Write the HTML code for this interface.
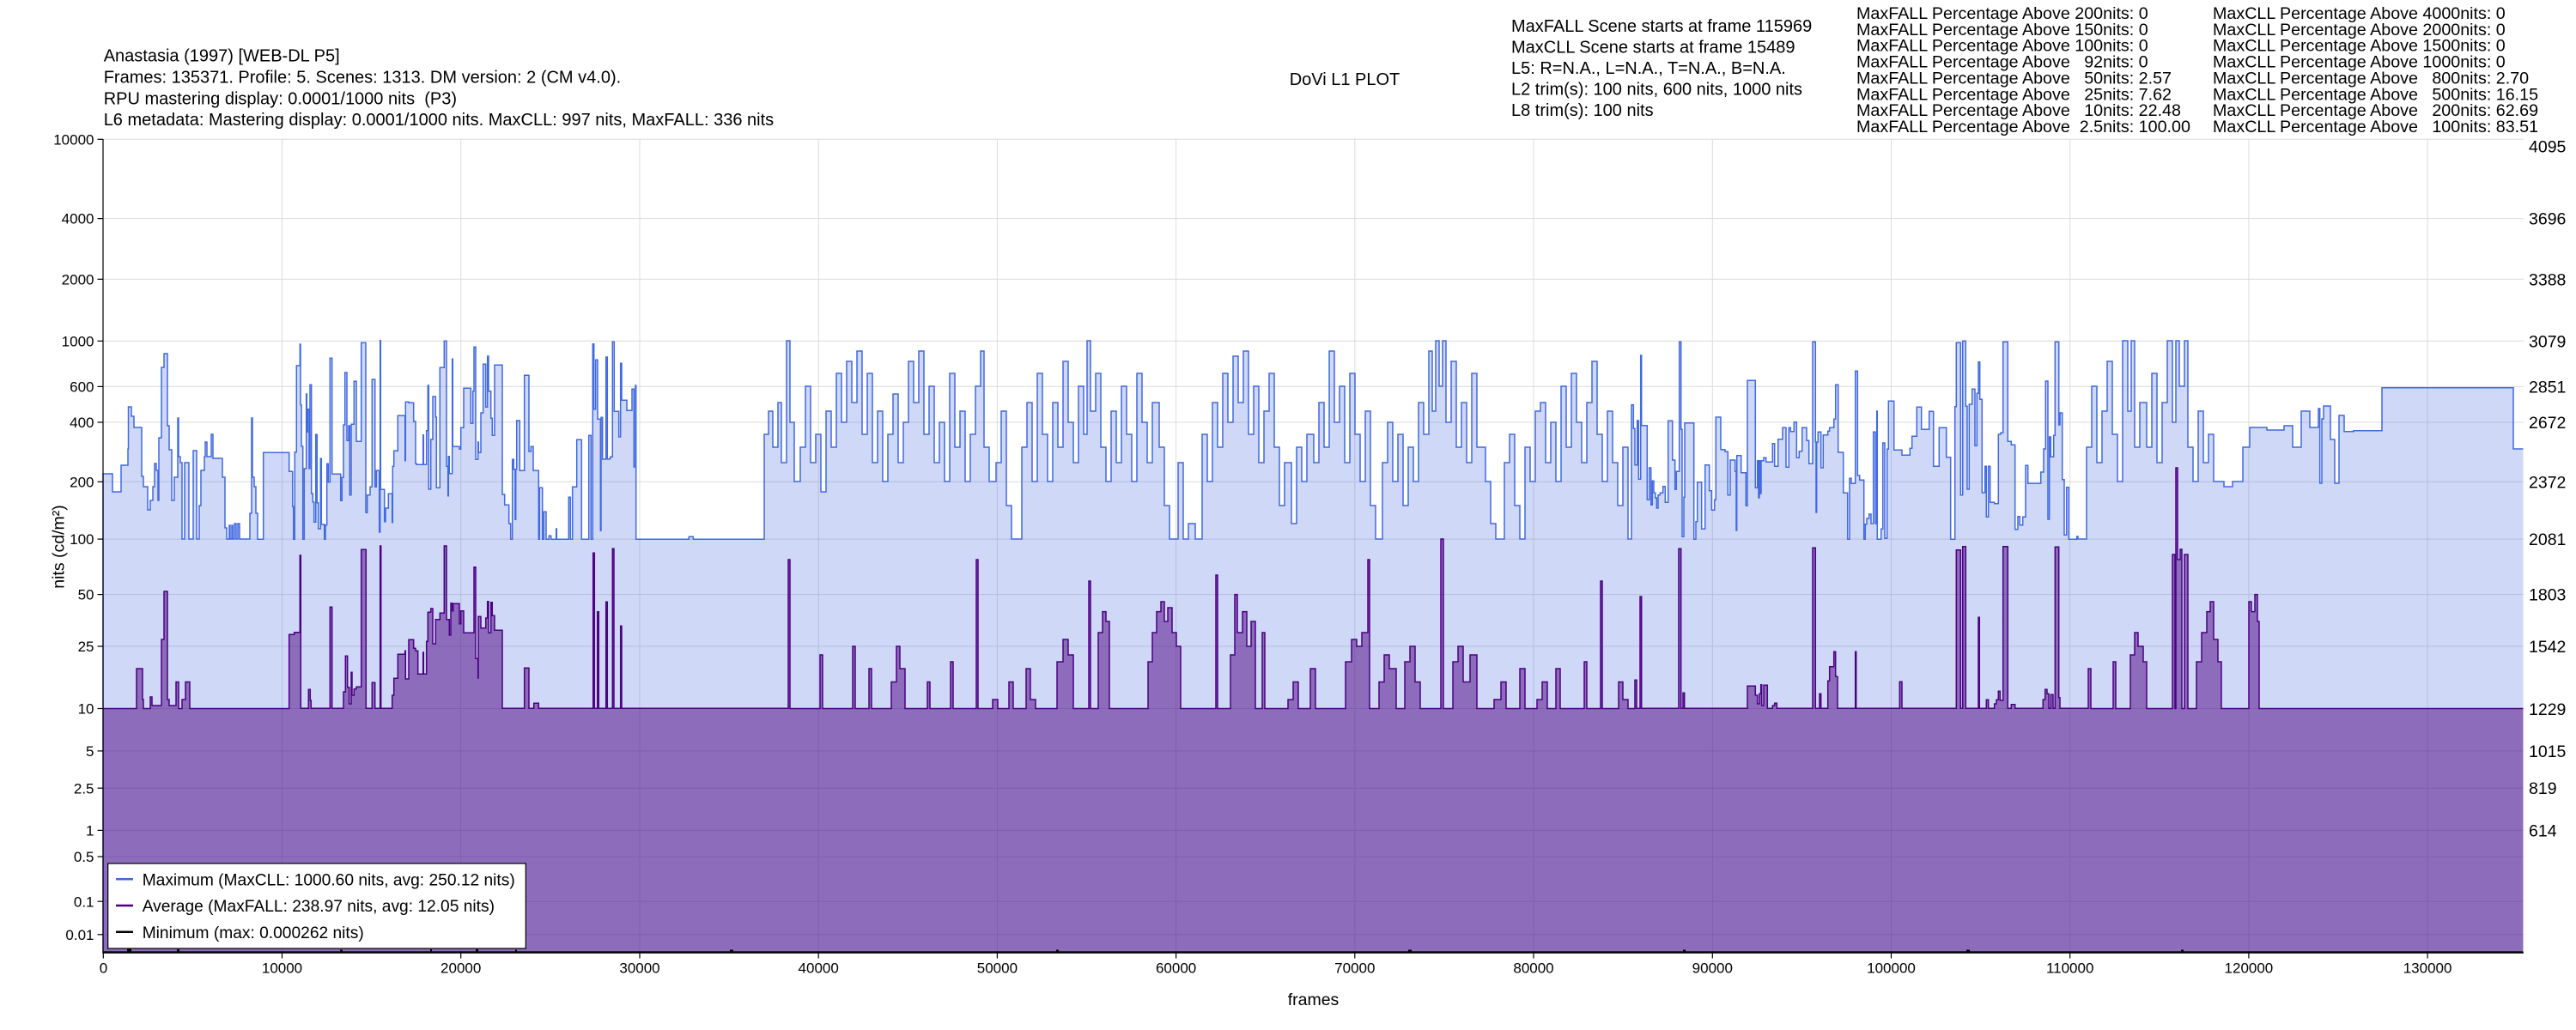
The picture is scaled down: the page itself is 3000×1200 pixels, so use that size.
<!DOCTYPE html>
<html><head><meta charset="utf-8"><style>
html,body{margin:0;padding:0;background:#fff;}
svg{display:block;}
text{font-family:"Liberation Sans",Arial,sans-serif;fill:#000;white-space:pre;}
</style></head><body>
<svg width="3000" height="1200" viewBox="0 0 3000 1200" xmlns="http://www.w3.org/2000/svg">
<rect x="0" y="0" width="3000" height="1200" fill="#fff"/>
<g stroke="#dcdcdc" stroke-width="1">
<line x1="120" y1="162.3" x2="2939" y2="162.3"/><line x1="120" y1="254.6" x2="2939" y2="254.6"/><line x1="120" y1="325.3" x2="2939" y2="325.3"/><line x1="120" y1="397.3" x2="2939" y2="397.3"/><line x1="120" y1="450.4" x2="2939" y2="450.4"/><line x1="120" y1="492" x2="2939" y2="492"/><line x1="120" y1="561.3" x2="2939" y2="561.3"/><line x1="120" y1="628.1" x2="2939" y2="628.1"/><line x1="120" y1="692.6" x2="2939" y2="692.6"/><line x1="120" y1="753" x2="2939" y2="753"/><line x1="120" y1="825.5" x2="2939" y2="825.5"/><line x1="120" y1="874.9" x2="2939" y2="874.9"/><line x1="120" y1="918.2" x2="2939" y2="918.2"/><line x1="120" y1="967.4" x2="2939" y2="967.4"/><line x1="120" y1="998" x2="2939" y2="998"/><line x1="120" y1="1050.2" x2="2939" y2="1050.2"/><line x1="120" y1="1088.8" x2="2939" y2="1088.8"/>
<line x1="328.5" y1="162" x2="328.5" y2="1110"/><line x1="536.7" y1="162" x2="536.7" y2="1110"/><line x1="745" y1="162" x2="745" y2="1110"/><line x1="953.2" y1="162" x2="953.2" y2="1110"/><line x1="1161.4" y1="162" x2="1161.4" y2="1110"/><line x1="1369.6" y1="162" x2="1369.6" y2="1110"/><line x1="1577.8" y1="162" x2="1577.8" y2="1110"/><line x1="1786" y1="162" x2="1786" y2="1110"/><line x1="1994.3" y1="162" x2="1994.3" y2="1110"/><line x1="2202.5" y1="162" x2="2202.5" y2="1110"/><line x1="2410.7" y1="162" x2="2410.7" y2="1110"/><line x1="2618.9" y1="162" x2="2618.9" y2="1110"/><line x1="2827.1" y1="162" x2="2827.1" y2="1110"/>
</g>
<!-- max fill -->
<path fill="#4169e1" fill-opacity="0.25" stroke="none" d="M120,1110 V552 H131 V573 H141 V542 H149 V523 H149.5 V474 H153 V485 H156 V498 H165 V555 H167 V567 H172 V594 H175 V583 H178 V567 H180 V540 H182 V548 H184 V583 H185 V510 H188 V428 H191 V412 H195 V496 H197 V524 H200 V583 H203 V556 H207 V487 H208 V532 H210 V539 H212 V628 H215 V539 H220 V628 H225 V525 H229 V628 H232 V589 H234 V548 H238 V532 H239 V515 H241 V532 H246 V506 H248 V534 H259 V556 H262 V615 H264 V628 H267 V612 H268 V628 H270 V612 H271 V628 H273 V610 H275 V628 H277 V610 H279 V628 H291 V598 H293 V487 H294 V556 H296 V567 H298 V598 H300 V628.3 H306.7 V527.3 H336.7 V549.3 H340.7 V590.3 H341.7 V628.3 H343.3 V526.7 H345.3 V426 H349.3 V401 H350 V471.7 H351 V520 H352.7 V628.3 H354.3 V546 H356.7 V459 H357.3 V503.3 H358.3 V476.7 H360 V546 H361 V448.3 H362.7 V575 H364.3 V585 H365.7 V608.3 H367.7 V506.3 H369.3 V585.7 H370.7 V616 H373.3 V534.3 H374.3 V611 H377.7 V628.3 H379 V611.7 H380.7 V540.3 H382.3 V561.7 H384.3 V417.3 H386.7 V552.3 H396.7 V583.3 H398.3 V556.3 H400 V495 H401.7 V434 H404 V513.3 H406 V496 H407.3 V576.7 H409 V494.3 H412.3 V444.3 H415 V514.3 H420.7 V399.3 H426 V597.3 H427.7 V576.7 H431 V567.3 H433.3 V442 H436.7 V567.3 H438.3 V548.3 H441.7 V620 H442.7 V396.7 H443.3 V570.3 H447.7 V607.7 H449 V592 H452.3 V575.3 H456.7 V608.7 H457.3 V543.3 H458.7 V525.3 H463.3 V484.3 H471.7 V536.7 H472.3 V468.3 H476 V469.3 H481.7 V491 H484 V540.3 H485.3 V541.3 H492.7 V506.7 H493.3 V541.3 H496.7 V501.7 H498.3 V449 H499.3 V570 H501.7 V512 H504 V462 H507.3 V486 H508.3 V568.3 H512.3 V428.3 H517.3 V397.3 H520 V543.3 H521.7 V577.7 H522.3 V531.7 H523.3 V551.7 H526.7 V418.3 H527.3 V520.3 H535 V523.3 H536.7 V498.3 H540 V452.3 H548.3 V493.3 H550.7 V455.7 H552 V404.3 H554 V535.3 H556.7 V515 H557.3 V527.3 H560 V481 H562.7 V424.3 H565.7 V474.3 H567.7 V415 H569 V455.7 H571.7 V487.3 H573.3 V507.3 H576 V425.3 H585 V576 H587.7 V588.3 H592.7 V610 H594.7 V628.3 H596.7 V535.3 H598.3 V546.7 H600 V605.3 H600.7 V546.7 H601.7 V490 H605.3 V548.3 H610.7 V437.3 H616 V526 H618.3 V520.3 H621 V548.3 H627.3 V628.3 H628.3 V568.3 H631.7 V628.3 H633.3 V596.3 H636 V628.3 H639.3 V624.3 H641.7 V628.3 H647.7 V616 H648.3 V628.3 H662.3 V579.3 H664.3 V628.3 H666.7 V567.3 H671.7 V512.3 H677.3 V628.3 H685.7 V507.3 H688.3 V628.3 H690.3 V400.7 H691.7 V476.7 H693.7 V419.3 H696 V488.3 H699.3 V618.3 H700 V486.3 H701.7 V535 H705.7 V416 H707.3 V534.7 H710.7 V532.3 H713.3 V398.3 H715.3 V479.3 H720.7 V509 H722.7 V423.3 H724 V466.3 H730 V478.3 H736 V453.3 H738.3 V544 H740 V449 H740.7 V628.3 H802.3 V625.3 H807.3 V628.3 H890 V506 H895 V479 H900 V521 H906 V469 H910 V539 H916 V397 H920 V492 H925 V561 H932 V521 H938 V450 H944 V539 H950 V506 H956 V573 H962 V479 H968 V521 H974 V435 H980 V492 H986 V421 H992 V469 H998 V409 H1004 V506 H1010 V435 H1016 V539 H1022 V479 H1028 V561 H1034 V506 H1040 V459 H1046 V539 H1052 V492 H1058 V421 H1064 V469 H1070 V409 H1076 V506 H1082 V450 H1088 V539 H1094 V492 H1100 V561 H1106 V435 H1112 V521 H1118 V479 H1124 V561 H1130 V506 H1136 V450 H1142 V409 H1146 V521 H1152 V561 H1160 V539 H1166 V479 H1172 V589 H1178 V628 H1190 V521 H1196 V469 H1202 V561 H1208 V435 H1214 V506 H1220 V561 H1226 V469 H1232 V521 H1238 V421 H1244 V492 H1250 V539 H1256 V450 H1262 V506 H1266 V397 H1270 V479 H1276 V435 H1282 V521 H1288 V561 H1294 V479 H1300 V539 H1306 V450 H1312 V506 H1318 V561 H1324 V435 H1330 V492 H1336 V539 H1342 V469 H1350 V521 H1356 V589 H1362 V628 H1372 V539 H1378 V628 H1384 V610 H1392 V628 H1400 V506 H1406 V561 H1412 V469 H1418 V521 H1424 V435 H1430 V492 H1436 V415 H1442 V469 H1448 V409 H1454 V506 H1460 V450 H1466 V539 H1472 V479 H1478 V435 H1484 V521 H1490 V589 H1496 V539 H1504 V610 H1510 V521 H1516 V561 H1522 V506 H1530 V539 H1536 V469 H1542 V521 H1548 V409 H1554 V492 H1560 V450 H1566 V539 H1572 V435 H1578 V506 H1584 V561 H1590 V479 H1596 V589 H1602 V628 H1610 V539 H1616 V492 H1622 V561 H1628 V506 H1634 V589 H1640 V521 H1646 V561 H1652 V469 H1658 V506 H1664 V409 H1668 V479 H1672 V397 H1676 V450 H1680 V397 H1684 V492 H1690 V421 H1696 V521 H1702 V469 H1708 V539 H1714 V435 H1720 V521 H1730 V561 H1736 V610 H1742 V628 H1752 V539 H1758 V506 H1764 V589 H1770 V628 H1776 V521 H1782 V561 H1788 V479 H1794 V469 H1800 V539 H1806 V492 H1812 V561 H1818 V450 H1824 V521 H1830 V435 H1836 V492 H1842 V539 H1848 V469 H1854 V421 H1860 V506 H1866 V561 H1872 V479 H1878 V539 H1884 V589 H1890 V521 H1896 V628 H1900 V471.7 H1902.3 V499.3 H1904 V541.7 H1906.7 V490 H1908.3 V558.3 H1910.7 V414 H1911.7 V495.7 H1918.3 V582.3 H1920.7 V545 H1922.7 V588.3 H1924.3 V560.3 H1926 V574.3 H1927.7 V580 H1929.3 V592 H1931 V576.7 H1933.3 V574.3 H1936.7 V566.7 H1939.3 V585.3 H1942.7 V490.3 H1947.7 V536 H1950.7 V570.3 H1952.3 V549.3 H1955.7 V398.3 H1957.7 V500.3 H1959 V625.3 H1961 V579.3 H1962 V492.7 H1972.7 V628.3 H1975 V607.7 H1976.7 V561.7 H1981.7 V616.3 H1985.7 V541.7 H1990.7 V571.7 H1993.3 V594.3 H1996.7 V582.3 H1998.3 V486 H2004 V523.7 H2009 V526.3 H2012.3 V576.7 H2015 V536 H2020.7 V549.3 H2022 V618 H2022.7 V530.7 H2027.7 V550.7 H2033.3 V589.3 H2035 V443.3 H2044.3 V568.3 H2046.7 V536.7 H2048 V580 H2049 V536.7 H2050 V575 H2051 V536.7 H2054 V533.3 H2056.7 V538.3 H2064.3 V516.7 H2066.7 V543.3 H2070.7 V511.7 H2076 V498.3 H2080 V544.3 H2083.3 V498.3 H2085.3 V502.7 H2089.3 V491.7 H2092.3 V533.3 H2095.3 V525.7 H2098.7 V498.3 H2104 V513.3 H2106.7 V540.3 H2111 V398.3 H2114.3 V515 H2115 V597 H2115.7 V515 H2117.3 V503.3 H2120.7 V545 H2123.3 V506.7 H2128.7 V502.3 H2130.7 V498.3 H2135.7 V488.3 H2137.7 V448.3 H2140.7 V527 H2146.7 V574.3 H2151.7 V628.3 H2154 V557.3 H2156 V563.3 H2160.7 V432.3 H2163.3 V554 H2165.7 V559.3 H2170.7 V628.3 H2172.3 V610.7 H2174 V604 H2176.7 V599 H2179 V610 H2181.7 V503.3 H2184 V610 H2185.7 V479 H2186.3 V628.3 H2190.7 V616.3 H2192.7 V516 H2195 V627.3 H2197.7 V523.3 H2199.3 V467.3 H2205.7 V524.3 H2215 V530.3 H2224.3 V522.3 H2226.7 V508.3 H2232.3 V474.3 H2237.7 V500.3 H2246.7 V479.3 H2251.7 V543.3 H2258.3 V498.3 H2266.7 V532.7 H2271.7 V628.3 H2276.7 V473.7 H2278.3 V399.3 H2283.3 V576.7 H2285.7 V397.3 H2289.3 V473.3 H2291 V570 H2293.3 V471 H2296.7 V453.3 H2300 V519.3 H2302.3 V458.3 H2304 V421.7 H2305.7 V465.3 H2308.3 V574 H2311.7 V543.3 H2313.3 V602.3 H2315.7 V543.3 H2317.7 V585.3 H2322.7 V586.7 H2327.3 V506 H2330 V504.3 H2332.7 V398.3 H2338.3 V514.3 H2342.3 V518.3 H2346.7 V616.7 H2350 V601.7 H2352.3 V611.7 H2355.7 V602.3 H2359 V542.3 H2361.7 V563.3 H2376.7 V550 H2380 V523 H2382.3 V444 H2385 V605 H2386.7 V509 H2388.3 V532.3 H2391.7 V507.3 H2393.3 V398.3 H2397.7 V495 H2399 V481 H2401.7 V558.7 H2404 V623.3 H2406.7 V567.7 H2409.3 V628.3 H2418.7 V625 H2420 V628 H2430 V521 H2436 V450 H2442 V539 H2448 V479 H2454 V421 H2460 V506 H2466 V561 H2472 V397 H2478 V479 H2482 V397 H2486 V521 H2492 V469 H2500 V521 H2506 V435 H2512 V539 H2518 V469 H2524 V397 H2530 V492 H2534 V397 H2538 V450 H2544 V397 H2548 V521 H2554 V561 H2560 V479 H2566 V539 H2572 V506 H2578 V561 H2590 V567 H2600 V561 H2612 V521 H2620 V498 H2640 V501 H2660 V496 H2670 V521 H2680 V479 H2690 V498 H2700 V476 H2701.7 V563 H2704 V488 H2706 V473 H2714 V512 H2719 V563 H2724 V484 H2730 V502.7 H2741 V501.7 H2774 V451.7 H2927 V523 H2938.5 V1110 Z"/>
<!-- max line -->
<path fill="none" stroke="#4169e1" stroke-width="1.5" d="M120,1110 V552 H131 V573 H141 V542 H149 V523 H149.5 V474 H153 V485 H156 V498 H165 V555 H167 V567 H172 V594 H175 V583 H178 V567 H180 V540 H182 V548 H184 V583 H185 V510 H188 V428 H191 V412 H195 V496 H197 V524 H200 V583 H203 V556 H207 V487 H208 V532 H210 V539 H212 V628 H215 V539 H220 V628 H225 V525 H229 V628 H232 V589 H234 V548 H238 V532 H239 V515 H241 V532 H246 V506 H248 V534 H259 V556 H262 V615 H264 V628 H267 V612 H268 V628 H270 V612 H271 V628 H273 V610 H275 V628 H277 V610 H279 V628 H291 V598 H293 V487 H294 V556 H296 V567 H298 V598 H300 V628.3 H306.7 V527.3 H336.7 V549.3 H340.7 V590.3 H341.7 V628.3 H343.3 V526.7 H345.3 V426 H349.3 V401 H350 V471.7 H351 V520 H352.7 V628.3 H354.3 V546 H356.7 V459 H357.3 V503.3 H358.3 V476.7 H360 V546 H361 V448.3 H362.7 V575 H364.3 V585 H365.7 V608.3 H367.7 V506.3 H369.3 V585.7 H370.7 V616 H373.3 V534.3 H374.3 V611 H377.7 V628.3 H379 V611.7 H380.7 V540.3 H382.3 V561.7 H384.3 V417.3 H386.7 V552.3 H396.7 V583.3 H398.3 V556.3 H400 V495 H401.7 V434 H404 V513.3 H406 V496 H407.3 V576.7 H409 V494.3 H412.3 V444.3 H415 V514.3 H420.7 V399.3 H426 V597.3 H427.7 V576.7 H431 V567.3 H433.3 V442 H436.7 V567.3 H438.3 V548.3 H441.7 V620 H442.7 V396.7 H443.3 V570.3 H447.7 V607.7 H449 V592 H452.3 V575.3 H456.7 V608.7 H457.3 V543.3 H458.7 V525.3 H463.3 V484.3 H471.7 V536.7 H472.3 V468.3 H476 V469.3 H481.7 V491 H484 V540.3 H485.3 V541.3 H492.7 V506.7 H493.3 V541.3 H496.7 V501.7 H498.3 V449 H499.3 V570 H501.7 V512 H504 V462 H507.3 V486 H508.3 V568.3 H512.3 V428.3 H517.3 V397.3 H520 V543.3 H521.7 V577.7 H522.3 V531.7 H523.3 V551.7 H526.7 V418.3 H527.3 V520.3 H535 V523.3 H536.7 V498.3 H540 V452.3 H548.3 V493.3 H550.7 V455.7 H552 V404.3 H554 V535.3 H556.7 V515 H557.3 V527.3 H560 V481 H562.7 V424.3 H565.7 V474.3 H567.7 V415 H569 V455.7 H571.7 V487.3 H573.3 V507.3 H576 V425.3 H585 V576 H587.7 V588.3 H592.7 V610 H594.7 V628.3 H596.7 V535.3 H598.3 V546.7 H600 V605.3 H600.7 V546.7 H601.7 V490 H605.3 V548.3 H610.7 V437.3 H616 V526 H618.3 V520.3 H621 V548.3 H627.3 V628.3 H628.3 V568.3 H631.7 V628.3 H633.3 V596.3 H636 V628.3 H639.3 V624.3 H641.7 V628.3 H647.7 V616 H648.3 V628.3 H662.3 V579.3 H664.3 V628.3 H666.7 V567.3 H671.7 V512.3 H677.3 V628.3 H685.7 V507.3 H688.3 V628.3 H690.3 V400.7 H691.7 V476.7 H693.7 V419.3 H696 V488.3 H699.3 V618.3 H700 V486.3 H701.7 V535 H705.7 V416 H707.3 V534.7 H710.7 V532.3 H713.3 V398.3 H715.3 V479.3 H720.7 V509 H722.7 V423.3 H724 V466.3 H730 V478.3 H736 V453.3 H738.3 V544 H740 V449 H740.7 V628.3 H802.3 V625.3 H807.3 V628.3 H890 V506 H895 V479 H900 V521 H906 V469 H910 V539 H916 V397 H920 V492 H925 V561 H932 V521 H938 V450 H944 V539 H950 V506 H956 V573 H962 V479 H968 V521 H974 V435 H980 V492 H986 V421 H992 V469 H998 V409 H1004 V506 H1010 V435 H1016 V539 H1022 V479 H1028 V561 H1034 V506 H1040 V459 H1046 V539 H1052 V492 H1058 V421 H1064 V469 H1070 V409 H1076 V506 H1082 V450 H1088 V539 H1094 V492 H1100 V561 H1106 V435 H1112 V521 H1118 V479 H1124 V561 H1130 V506 H1136 V450 H1142 V409 H1146 V521 H1152 V561 H1160 V539 H1166 V479 H1172 V589 H1178 V628 H1190 V521 H1196 V469 H1202 V561 H1208 V435 H1214 V506 H1220 V561 H1226 V469 H1232 V521 H1238 V421 H1244 V492 H1250 V539 H1256 V450 H1262 V506 H1266 V397 H1270 V479 H1276 V435 H1282 V521 H1288 V561 H1294 V479 H1300 V539 H1306 V450 H1312 V506 H1318 V561 H1324 V435 H1330 V492 H1336 V539 H1342 V469 H1350 V521 H1356 V589 H1362 V628 H1372 V539 H1378 V628 H1384 V610 H1392 V628 H1400 V506 H1406 V561 H1412 V469 H1418 V521 H1424 V435 H1430 V492 H1436 V415 H1442 V469 H1448 V409 H1454 V506 H1460 V450 H1466 V539 H1472 V479 H1478 V435 H1484 V521 H1490 V589 H1496 V539 H1504 V610 H1510 V521 H1516 V561 H1522 V506 H1530 V539 H1536 V469 H1542 V521 H1548 V409 H1554 V492 H1560 V450 H1566 V539 H1572 V435 H1578 V506 H1584 V561 H1590 V479 H1596 V589 H1602 V628 H1610 V539 H1616 V492 H1622 V561 H1628 V506 H1634 V589 H1640 V521 H1646 V561 H1652 V469 H1658 V506 H1664 V409 H1668 V479 H1672 V397 H1676 V450 H1680 V397 H1684 V492 H1690 V421 H1696 V521 H1702 V469 H1708 V539 H1714 V435 H1720 V521 H1730 V561 H1736 V610 H1742 V628 H1752 V539 H1758 V506 H1764 V589 H1770 V628 H1776 V521 H1782 V561 H1788 V479 H1794 V469 H1800 V539 H1806 V492 H1812 V561 H1818 V450 H1824 V521 H1830 V435 H1836 V492 H1842 V539 H1848 V469 H1854 V421 H1860 V506 H1866 V561 H1872 V479 H1878 V539 H1884 V589 H1890 V521 H1896 V628 H1900 V471.7 H1902.3 V499.3 H1904 V541.7 H1906.7 V490 H1908.3 V558.3 H1910.7 V414 H1911.7 V495.7 H1918.3 V582.3 H1920.7 V545 H1922.7 V588.3 H1924.3 V560.3 H1926 V574.3 H1927.7 V580 H1929.3 V592 H1931 V576.7 H1933.3 V574.3 H1936.7 V566.7 H1939.3 V585.3 H1942.7 V490.3 H1947.7 V536 H1950.7 V570.3 H1952.3 V549.3 H1955.7 V398.3 H1957.7 V500.3 H1959 V625.3 H1961 V579.3 H1962 V492.7 H1972.7 V628.3 H1975 V607.7 H1976.7 V561.7 H1981.7 V616.3 H1985.7 V541.7 H1990.7 V571.7 H1993.3 V594.3 H1996.7 V582.3 H1998.3 V486 H2004 V523.7 H2009 V526.3 H2012.3 V576.7 H2015 V536 H2020.7 V549.3 H2022 V618 H2022.7 V530.7 H2027.7 V550.7 H2033.3 V589.3 H2035 V443.3 H2044.3 V568.3 H2046.7 V536.7 H2048 V580 H2049 V536.7 H2050 V575 H2051 V536.7 H2054 V533.3 H2056.7 V538.3 H2064.3 V516.7 H2066.7 V543.3 H2070.7 V511.7 H2076 V498.3 H2080 V544.3 H2083.3 V498.3 H2085.3 V502.7 H2089.3 V491.7 H2092.3 V533.3 H2095.3 V525.7 H2098.7 V498.3 H2104 V513.3 H2106.7 V540.3 H2111 V398.3 H2114.3 V515 H2115 V597 H2115.7 V515 H2117.3 V503.3 H2120.7 V545 H2123.3 V506.7 H2128.7 V502.3 H2130.7 V498.3 H2135.7 V488.3 H2137.7 V448.3 H2140.7 V527 H2146.7 V574.3 H2151.7 V628.3 H2154 V557.3 H2156 V563.3 H2160.7 V432.3 H2163.3 V554 H2165.7 V559.3 H2170.7 V628.3 H2172.3 V610.7 H2174 V604 H2176.7 V599 H2179 V610 H2181.7 V503.3 H2184 V610 H2185.7 V479 H2186.3 V628.3 H2190.7 V616.3 H2192.7 V516 H2195 V627.3 H2197.7 V523.3 H2199.3 V467.3 H2205.7 V524.3 H2215 V530.3 H2224.3 V522.3 H2226.7 V508.3 H2232.3 V474.3 H2237.7 V500.3 H2246.7 V479.3 H2251.7 V543.3 H2258.3 V498.3 H2266.7 V532.7 H2271.7 V628.3 H2276.7 V473.7 H2278.3 V399.3 H2283.3 V576.7 H2285.7 V397.3 H2289.3 V473.3 H2291 V570 H2293.3 V471 H2296.7 V453.3 H2300 V519.3 H2302.3 V458.3 H2304 V421.7 H2305.7 V465.3 H2308.3 V574 H2311.7 V543.3 H2313.3 V602.3 H2315.7 V543.3 H2317.7 V585.3 H2322.7 V586.7 H2327.3 V506 H2330 V504.3 H2332.7 V398.3 H2338.3 V514.3 H2342.3 V518.3 H2346.7 V616.7 H2350 V601.7 H2352.3 V611.7 H2355.7 V602.3 H2359 V542.3 H2361.7 V563.3 H2376.7 V550 H2380 V523 H2382.3 V444 H2385 V605 H2386.7 V509 H2388.3 V532.3 H2391.7 V507.3 H2393.3 V398.3 H2397.7 V495 H2399 V481 H2401.7 V558.7 H2404 V623.3 H2406.7 V567.7 H2409.3 V628.3 H2418.7 V625 H2420 V628 H2430 V521 H2436 V450 H2442 V539 H2448 V479 H2454 V421 H2460 V506 H2466 V561 H2472 V397 H2478 V479 H2482 V397 H2486 V521 H2492 V469 H2500 V521 H2506 V435 H2512 V539 H2518 V469 H2524 V397 H2530 V492 H2534 V397 H2538 V450 H2544 V397 H2548 V521 H2554 V561 H2560 V479 H2566 V539 H2572 V506 H2578 V561 H2590 V567 H2600 V561 H2612 V521 H2620 V498 H2640 V501 H2660 V496 H2670 V521 H2680 V479 H2690 V498 H2700 V476 H2701.7 V563 H2704 V488 H2706 V473 H2714 V512 H2719 V563 H2724 V484 H2730 V502.7 H2741 V501.7 H2774 V451.7 H2927 V523 H2938.5"/>
<!-- avg fill -->
<path fill="#4b0082" fill-opacity="0.5" stroke="none" d="M120,1110 V825.5 H159 V779 H166 V815 H167 V825.5 H175 V812 H177 V822 H188 V745 H191 V689 H195 V815 H197 V822 H205 V794.5 H208 V825.5 H212 V815 H216 V794.5 H221 V825.5 H336.7 V739.3 H342.7 V736.7 H349.3 V647 H350.3 V825.3 H359.3 V803.3 H361.3 V816 H362.3 V825.3 H384.3 V707.3 H386.7 V825.3 H400 V806 H402.3 V764.3 H404.7 V800.7 H406.7 V820 H409 V783.3 H410 V810 H412.3 V802.7 H415 V800.3 H420.7 V640.3 H426.3 V825.3 H433.3 V795.3 H436.7 V825.3 H442.7 V636 H443.7 V825.3 H456.7 V810 H458.7 V790.3 H463.3 V762.3 H471.7 V758.3 H472.3 V791 H476 V745.3 H481.7 V755.3 H484 V758.3 H486.7 V785.3 H492.7 V760 H493.3 V785.3 H496.7 V747.3 H498.3 V713.3 H501.7 V709 H504 V750 H507.3 V721.7 H512.3 V714.3 H517.3 V636 H520 V721.7 H523.3 V740 H525 V702.7 H526.7 V711.7 H527.7 V703.3 H535 V726.7 H536.7 V711.7 H540 V737.3 H552 V660.7 H554 V767.3 H556.7 V790 H557 V718.3 H560 V731.7 H565.7 V720 H567.7 V700.7 H569 V737.3 H571.7 V701.7 H573.3 V717.3 H576 V734.3 H585 V825.3 H610.7 V778.3 H616 V825.3 H621.7 V819.3 H627.3 V825.3 H690.7 V644.3 H692.3 V825.3 H695.7 V712.7 H697.3 V825.3 H705.7 V701.3 H707.3 V825.3 H713.3 V639.3 H715 V825.3 H722.7 V729.3 H724 V825.3 H918 V652 H920 V825.5 H955 V763 H958 V825.5 H993 V753 H996 V825.5 H1012 V779 H1015 V825.5 H1038 V794.5 H1044 V753 H1048 V779 H1054 V825.5 H1080 V794.5 H1083 V825.5 H1107 V771 H1110 V825.5 H1137 V652 H1139 V825.5 H1156 V815 H1162 V825.5 H1175 V794.5 H1180 V825.5 H1195 V779 H1200 V815 H1206 V825.5 H1231 V771 H1238 V745 H1244 V763 H1250 V825.5 H1268 V677 H1270 V825.5 H1279 V737 H1284 V712.6 H1288 V724 H1292 V825.5 H1337 V771 H1342 V737 H1347 V712.6 H1352 V701 H1356 V724 H1360 V708 H1365 V737 H1370 V753 H1375 V825.5 H1416 V670 H1418 V825.5 H1433 V763 H1438 V692.6 H1441 V737 H1447 V712.6 H1452 V753 H1457 V724 H1462 V825.5 H1470 V737 H1473 V825.5 H1500 V815 H1506 V794.5 H1512 V825.5 H1526 V779 H1532 V825.5 H1567 V771 H1574 V745 H1580 V753 H1586 V737 H1593 V652 H1595 V825.5 H1606 V794.5 H1612 V763 H1618 V779 H1626 V825.5 H1636 V771 H1642 V753 H1648 V794.5 H1654 V825.5 H1678 V628 H1681 V825.5 H1692 V771 H1698 V753 H1704 V794.5 H1712 V763 H1720 V825.5 H1740 V815 H1748 V794.5 H1754 V825.5 H1770 V779 H1776 V825.5 H1790 V815 H1796 V794.5 H1802 V825.5 H1812 V779 H1817 V825.5 H1845 V771 H1848 V825.5 H1864 V677 H1866 V825.5 H1885 V794.5 H1890 V815 H1896 V825.5 H1904 V792.3 H1906 V825.3 H1910 V695 H1911.7 V825.3 H1955 V639.3 H1957.7 V825.3 H1960 V807.3 H1961.7 V825.3 H2035 V799.3 H2044.3 V810 H2046.7 V820 H2049 V808.3 H2050.7 V797.7 H2051.7 V822 H2054 V798.3 H2058.3 V825.3 H2064.3 V822 H2066.7 V819.3 H2069.3 V825.3 H2111 V638.3 H2114.3 V825.3 H2119 V808.3 H2120.7 V825.3 H2128.7 V793.3 H2130.7 V776.7 H2135.7 V759.3 H2137.7 V788.3 H2140 V825.3 H2160.7 V759.3 H2161.7 V825.3 H2212.3 V794.3 H2215 V825.3 H2278.3 V640.7 H2283.3 V825.3 H2285.7 V636.7 H2289.3 V825.3 H2304 V719.3 H2305.3 V825.3 H2313.3 V815.3 H2315.7 V825.3 H2322.7 V820 H2325 V815.3 H2327.3 V805.3 H2329.3 V816 H2332.7 V636.7 H2338.3 V825.3 H2342.3 V820.7 H2346.7 V825.3 H2379.3 V815 H2381.7 V803.3 H2384 V808.3 H2386 V825.3 H2388.3 V809.3 H2391 V825.3 H2393.3 V637.3 H2397.7 V812.7 H2399 V825.3 H2432 V779 H2435 V825.5 H2461 V771 H2464 V825.5 H2481 V763 H2486 V737 H2490 V753 H2496 V771 H2500 V825.5 H2530 V646 H2533 V825.5 H2534 V545 H2536 V652 H2539 V640 H2541 V825.5 H2544 V646 H2548 V825.5 H2558 V771 H2564 V737 H2570 V712.6 H2574 V701 H2578 V745 H2583 V771 H2587 V825.5 H2619 V701 H2622 V712.6 H2626 V692.6 H2629 V724 H2631 V825.5 H2938.5 V1110 Z"/>
<!-- avg line -->
<path fill="none" stroke="#4b0082" stroke-width="1.5" d="M120,825.5 H159 V779 H166 V815 H167 V825.5 H175 V812 H177 V822 H188 V745 H191 V689 H195 V815 H197 V822 H205 V794.5 H208 V825.5 H212 V815 H216 V794.5 H221 V825.5 H336.7 V739.3 H342.7 V736.7 H349.3 V647 H350.3 V825.3 H359.3 V803.3 H361.3 V816 H362.3 V825.3 H384.3 V707.3 H386.7 V825.3 H400 V806 H402.3 V764.3 H404.7 V800.7 H406.7 V820 H409 V783.3 H410 V810 H412.3 V802.7 H415 V800.3 H420.7 V640.3 H426.3 V825.3 H433.3 V795.3 H436.7 V825.3 H442.7 V636 H443.7 V825.3 H456.7 V810 H458.7 V790.3 H463.3 V762.3 H471.7 V758.3 H472.3 V791 H476 V745.3 H481.7 V755.3 H484 V758.3 H486.7 V785.3 H492.7 V760 H493.3 V785.3 H496.7 V747.3 H498.3 V713.3 H501.7 V709 H504 V750 H507.3 V721.7 H512.3 V714.3 H517.3 V636 H520 V721.7 H523.3 V740 H525 V702.7 H526.7 V711.7 H527.7 V703.3 H535 V726.7 H536.7 V711.7 H540 V737.3 H552 V660.7 H554 V767.3 H556.7 V790 H557 V718.3 H560 V731.7 H565.7 V720 H567.7 V700.7 H569 V737.3 H571.7 V701.7 H573.3 V717.3 H576 V734.3 H585 V825.3 H610.7 V778.3 H616 V825.3 H621.7 V819.3 H627.3 V825.3 H690.7 V644.3 H692.3 V825.3 H695.7 V712.7 H697.3 V825.3 H705.7 V701.3 H707.3 V825.3 H713.3 V639.3 H715 V825.3 H722.7 V729.3 H724 V825.3 H918 V652 H920 V825.5 H955 V763 H958 V825.5 H993 V753 H996 V825.5 H1012 V779 H1015 V825.5 H1038 V794.5 H1044 V753 H1048 V779 H1054 V825.5 H1080 V794.5 H1083 V825.5 H1107 V771 H1110 V825.5 H1137 V652 H1139 V825.5 H1156 V815 H1162 V825.5 H1175 V794.5 H1180 V825.5 H1195 V779 H1200 V815 H1206 V825.5 H1231 V771 H1238 V745 H1244 V763 H1250 V825.5 H1268 V677 H1270 V825.5 H1279 V737 H1284 V712.6 H1288 V724 H1292 V825.5 H1337 V771 H1342 V737 H1347 V712.6 H1352 V701 H1356 V724 H1360 V708 H1365 V737 H1370 V753 H1375 V825.5 H1416 V670 H1418 V825.5 H1433 V763 H1438 V692.6 H1441 V737 H1447 V712.6 H1452 V753 H1457 V724 H1462 V825.5 H1470 V737 H1473 V825.5 H1500 V815 H1506 V794.5 H1512 V825.5 H1526 V779 H1532 V825.5 H1567 V771 H1574 V745 H1580 V753 H1586 V737 H1593 V652 H1595 V825.5 H1606 V794.5 H1612 V763 H1618 V779 H1626 V825.5 H1636 V771 H1642 V753 H1648 V794.5 H1654 V825.5 H1678 V628 H1681 V825.5 H1692 V771 H1698 V753 H1704 V794.5 H1712 V763 H1720 V825.5 H1740 V815 H1748 V794.5 H1754 V825.5 H1770 V779 H1776 V825.5 H1790 V815 H1796 V794.5 H1802 V825.5 H1812 V779 H1817 V825.5 H1845 V771 H1848 V825.5 H1864 V677 H1866 V825.5 H1885 V794.5 H1890 V815 H1896 V825.5 H1904 V792.3 H1906 V825.3 H1910 V695 H1911.7 V825.3 H1955 V639.3 H1957.7 V825.3 H1960 V807.3 H1961.7 V825.3 H2035 V799.3 H2044.3 V810 H2046.7 V820 H2049 V808.3 H2050.7 V797.7 H2051.7 V822 H2054 V798.3 H2058.3 V825.3 H2064.3 V822 H2066.7 V819.3 H2069.3 V825.3 H2111 V638.3 H2114.3 V825.3 H2119 V808.3 H2120.7 V825.3 H2128.7 V793.3 H2130.7 V776.7 H2135.7 V759.3 H2137.7 V788.3 H2140 V825.3 H2160.7 V759.3 H2161.7 V825.3 H2212.3 V794.3 H2215 V825.3 H2278.3 V640.7 H2283.3 V825.3 H2285.7 V636.7 H2289.3 V825.3 H2304 V719.3 H2305.3 V825.3 H2313.3 V815.3 H2315.7 V825.3 H2322.7 V820 H2325 V815.3 H2327.3 V805.3 H2329.3 V816 H2332.7 V636.7 H2338.3 V825.3 H2342.3 V820.7 H2346.7 V825.3 H2379.3 V815 H2381.7 V803.3 H2384 V808.3 H2386 V825.3 H2388.3 V809.3 H2391 V825.3 H2393.3 V637.3 H2397.7 V812.7 H2399 V825.3 H2432 V779 H2435 V825.5 H2461 V771 H2464 V825.5 H2481 V763 H2486 V737 H2490 V753 H2496 V771 H2500 V825.5 H2530 V646 H2533 V825.5 H2534 V545 H2536 V652 H2539 V640 H2541 V825.5 H2544 V646 H2548 V825.5 H2558 V771 H2564 V737 H2570 V712.6 H2574 V701 H2578 V745 H2583 V771 H2587 V825.5 H2619 V701 H2622 V712.6 H2626 V692.6 H2629 V724 H2631 V825.5 H2938.5"/>
<!-- min line -->
<g fill="#000">
<rect x="120" y="1108.3" width="2818.5" height="2.4"/>
<rect x="148" y="1105.5" width="5" height="3"/><rect x="206" y="1106" width="3" height="3"/><rect x="396" y="1106.5" width="3" height="2"/><rect x="501" y="1106" width="2" height="3"/><rect x="554" y="1106" width="3" height="3"/><rect x="600" y="1106.5" width="2" height="2"/>
<rect x="850" y="1106.5" width="4" height="2"/><rect x="1230" y="1106.5" width="3" height="2"/><rect x="1640" y="1106.5" width="4" height="2"/><rect x="1960" y="1106.5" width="3" height="2"/><rect x="2290" y="1106.5" width="4" height="2"/><rect x="2540" y="1106.5" width="3" height="2"/>
</g>
<g stroke="#000" stroke-width="1.2">
<line x1="120" y1="162" x2="120" y2="1111"/>
<line x1="119.5" y1="1110" x2="2939" y2="1110"/>
<line x1="113.5" y1="162.3" x2="120" y2="162.3"/><line x1="113.5" y1="254.6" x2="120" y2="254.6"/><line x1="113.5" y1="325.3" x2="120" y2="325.3"/><line x1="113.5" y1="397.3" x2="120" y2="397.3"/><line x1="113.5" y1="450.4" x2="120" y2="450.4"/><line x1="113.5" y1="492" x2="120" y2="492"/><line x1="113.5" y1="561.3" x2="120" y2="561.3"/><line x1="113.5" y1="628.1" x2="120" y2="628.1"/><line x1="113.5" y1="692.6" x2="120" y2="692.6"/><line x1="113.5" y1="753" x2="120" y2="753"/><line x1="113.5" y1="825.5" x2="120" y2="825.5"/><line x1="113.5" y1="874.9" x2="120" y2="874.9"/><line x1="113.5" y1="918.2" x2="120" y2="918.2"/><line x1="113.5" y1="967.4" x2="120" y2="967.4"/><line x1="113.5" y1="998" x2="120" y2="998"/><line x1="113.5" y1="1050.2" x2="120" y2="1050.2"/><line x1="113.5" y1="1088.8" x2="120" y2="1088.8"/>
<line x1="120.3" y1="1110" x2="120.3" y2="1116.5"/><line x1="328.5" y1="1110" x2="328.5" y2="1116.5"/><line x1="536.7" y1="1110" x2="536.7" y2="1116.5"/><line x1="745" y1="1110" x2="745" y2="1116.5"/><line x1="953.2" y1="1110" x2="953.2" y2="1116.5"/><line x1="1161.4" y1="1110" x2="1161.4" y2="1116.5"/><line x1="1369.6" y1="1110" x2="1369.6" y2="1116.5"/><line x1="1577.8" y1="1110" x2="1577.8" y2="1116.5"/><line x1="1786" y1="1110" x2="1786" y2="1116.5"/><line x1="1994.3" y1="1110" x2="1994.3" y2="1116.5"/><line x1="2202.5" y1="1110" x2="2202.5" y2="1116.5"/><line x1="2410.7" y1="1110" x2="2410.7" y2="1116.5"/><line x1="2618.9" y1="1110" x2="2618.9" y2="1116.5"/><line x1="2827.1" y1="1110" x2="2827.1" y2="1116.5"/>
</g>
<g font-size="17" text-anchor="end">
<text x="109.5" y="168.4">10000</text><text x="109.5" y="260.7">4000</text><text x="109.5" y="331.4">2000</text><text x="109.5" y="403.4">1000</text><text x="109.5" y="456.5">600</text><text x="109.5" y="498.1">400</text><text x="109.5" y="567.4">200</text><text x="109.5" y="634.2">100</text><text x="109.5" y="698.7">50</text><text x="109.5" y="759.1">25</text><text x="109.5" y="831.6">10</text><text x="109.5" y="881">5</text><text x="109.5" y="924.3">2.5</text><text x="109.5" y="973.5">1</text><text x="109.5" y="1004.1">0.5</text><text x="109.5" y="1056.3">0.1</text><text x="109.5" y="1094.9">0.01</text>
</g>
<g font-size="19.5">
<text x="2945" y="177.7">4095</text><text x="2945" y="261.6">3696</text><text x="2945" y="332.3">3388</text><text x="2945" y="404.3">3079</text><text x="2945" y="457.4">2851</text><text x="2945" y="499">2672</text><text x="2945" y="568.3">2372</text><text x="2945" y="635.1">2081</text><text x="2945" y="699.6">1803</text><text x="2945" y="760">1542</text><text x="2945" y="833">1229</text><text x="2945" y="881.9">1015</text><text x="2945" y="925.2">819</text><text x="2945" y="974.4">614</text>
</g>
<g font-size="17" text-anchor="middle">
<text x="120.5" y="1133.5">0</text><text x="328.5" y="1133.5">10000</text><text x="536.7" y="1133.5">20000</text><text x="745" y="1133.5">30000</text><text x="953.2" y="1133.5">40000</text><text x="1161.4" y="1133.5">50000</text><text x="1369.6" y="1133.5">60000</text><text x="1577.8" y="1133.5">70000</text><text x="1786" y="1133.5">80000</text><text x="1994.3" y="1133.5">90000</text><text x="2202.5" y="1133.5">100000</text><text x="2410.7" y="1133.5">110000</text><text x="2618.9" y="1133.5">120000</text><text x="2827.1" y="1133.5">130000</text>
</g>
<text x="1529.5" y="1171" font-size="19.5" text-anchor="middle">frames</text>
<text transform="translate(74.5,637) rotate(-90)" font-size="19.5" text-anchor="middle">nits (cd/m²)</text>
<rect x="125.7" y="1006" width="486.6" height="99" fill="#fff" stroke="#000" stroke-width="1.2"/>
<line x1="135" y1="1024.3" x2="155" y2="1024.3" stroke="#4169e1" stroke-width="2.5"/>
<line x1="135" y1="1055" x2="155" y2="1055" stroke="#4b0082" stroke-width="2.5"/>
<line x1="135" y1="1085.7" x2="155" y2="1085.7" stroke="#000" stroke-width="2.5"/>
<g font-size="19.2">
<text x="165.7" y="1031.4">Maximum (MaxCLL: 1000.60 nits, avg: 250.12 nits)</text>
<text x="165.7" y="1062.1">Average (MaxFALL: 238.97 nits, avg: 12.05 nits)</text>
<text x="165.7" y="1092.8">Minimum (max: 0.000262 nits)</text>
</g>
<g font-size="20">
<text x="120.7" y="71.7">Anastasia (1997) [WEB-DL P5]</text>
<text x="120.7" y="96.5">Frames: 135371. Profile: 5. Scenes: 1313. DM version: 2 (CM v4.0).</text>
<text x="120.7" y="121.3" xml:space="preserve">RPU mastering display: 0.0001/1000 nits  (P3)</text>
<text x="120.7" y="146.1">L6 metadata: Mastering display: 0.0001/1000 nits. MaxCLL: 997 nits, MaxFALL: 336 nits</text>
<text x="1501.7" y="99">DoVi L1 PLOT</text>
<text x="1760" y="37">MaxFALL Scene starts at frame 115969</text>
<text x="1760" y="61.5">MaxCLL Scene starts at frame 15489</text>
<text x="1760" y="86">L5: R=N.A., L=N.A., T=N.A., B=N.A.</text>
<text x="1760" y="110.5">L2 trim(s): 100 nits, 600 nits, 1000 nits</text>
<text x="1760" y="135">L8 trim(s): 100 nits</text>
</g>
<g font-size="19.7" xml:space="preserve">
<text x="2162" y="22">MaxFALL Percentage Above 200nits: 0</text>
<text x="2162" y="40.9">MaxFALL Percentage Above 150nits: 0</text>
<text x="2162" y="59.7">MaxFALL Percentage Above 100nits: 0</text>
<text x="2162" y="78.6">MaxFALL Percentage Above   92nits: 0</text>
<text x="2162" y="97.4">MaxFALL Percentage Above   50nits: 2.57</text>
<text x="2162" y="116.3">MaxFALL Percentage Above   25nits: 7.62</text>
<text x="2162" y="135.2">MaxFALL Percentage Above   10nits: 22.48</text>
<text x="2162" y="154">MaxFALL Percentage Above  2.5nits: 100.00</text>
<text x="2577" y="22">MaxCLL Percentage Above 4000nits: 0</text>
<text x="2577" y="40.9">MaxCLL Percentage Above 2000nits: 0</text>
<text x="2577" y="59.7">MaxCLL Percentage Above 1500nits: 0</text>
<text x="2577" y="78.6">MaxCLL Percentage Above 1000nits: 0</text>
<text x="2577" y="97.4">MaxCLL Percentage Above   800nits: 2.70</text>
<text x="2577" y="116.3">MaxCLL Percentage Above   500nits: 16.15</text>
<text x="2577" y="135.2">MaxCLL Percentage Above   200nits: 62.69</text>
<text x="2577" y="154">MaxCLL Percentage Above   100nits: 83.51</text>
</g>
</svg>
</body></html>
